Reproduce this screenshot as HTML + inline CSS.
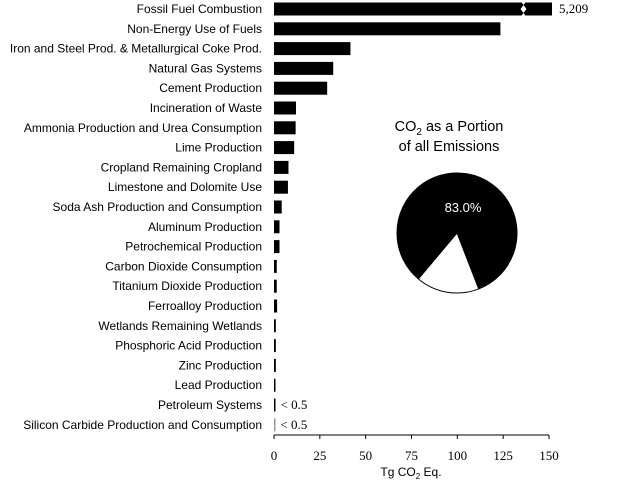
<!DOCTYPE html>
<html><head><meta charset="utf-8"><style>
body{margin:0;background:#fff;}
svg text{font-family:"Liberation Sans",sans-serif;}
</style></head><body>
<svg width="620" height="483" viewBox="0 0 620 483">
<g id="labels"></g><g id="bars"></g><g id="axis"></g>
<g>
<text x="449" y="131" font-size="14.5" text-anchor="middle">CO<tspan font-size="10" dy="4">2</tspan><tspan dy="-4"> as a Portion</tspan></text>
<text x="449" y="151" font-size="14.5" text-anchor="middle">of all Emissions</text>
<g id="pie"></g>
</g>
</svg>
<script>
const categories=["Fossil Fuel Combustion","Non-Energy Use of Fuels","Iron and Steel Prod. & Metallurgical Coke Prod.","Natural Gas Systems","Cement Production","Incineration of Waste","Ammonia Production and Urea Consumption","Lime Production","Cropland Remaining Cropland","Limestone and Dolomite Use","Soda Ash Production and Consumption","Aluminum Production","Petrochemical Production","Carbon Dioxide Consumption","Titanium Dioxide Production","Ferroalloy Production","Wetlands Remaining Wetlands","Phosphoric Acid Production","Zinc Production","Lead Production","Petroleum Systems","Silicon Carbide Production and Consumption"];
const values=[5209,123.5,41.7,32.3,29.0,12.0,11.8,11.0,7.9,7.6,4.2,3.0,3.0,1.5,1.5,1.7,1.0,1.0,1.0,0.5,0.3,0.2];
const valueLabels=["5,209","","","","","","","","","","","","","","","","","","","","< 0.5","< 0.5"];
const ticks=[0,25,50,75,100,125,150];
const pieValues=[83.0,17.0];
const NS="http://www.w3.org/2000/svg";
function mk(t,a,p){const e=document.createElementNS(NS,t);for(const k in a)e.setAttribute(k,a[k]);p.appendChild(e);return e;}
const x0=274,x1=549,vmax=150;
const X=v=>x0+Math.min(v,vmax)/vmax*(x1-x0);
const Y=i=>9+i*19.8;
const L=document.getElementById('labels'),B=document.getElementById('bars'),A=document.getElementById('axis');
categories.forEach((c,i)=>{
 const t=mk('text',{x:262,y:Y(i)+4,'font-size':12,'text-anchor':'end'},L);t.textContent=c;
 
 
 let w=X(values[i])-x0; if(values[i]>vmax) w+=3;
 w=Math.max(w,1.5);
 const r=mk('rect',{x:x0,y:Y(i)-6.5,width:w,height:13,fill:i==21?'#999':'#000'},B);
 
 
 if(values[i]>vmax){
  const br=mk('path',{d:`M${X(135)-1} ${Y(i)-8} l3 4 -3 4 3 4 -3 4 h6 l-3 -4 3 -4 -3 -4 3 -4 z`,fill:'#fff'},B);
  
  
 }
 if(valueLabels[i]){
  const vx=values[i]>vmax?X(vmax)+10:X(values[i])+6;
  const vt=mk('text',{x:vx,y:Y(i)+4,'font-size':13,style:'font-family:"Liberation Serif",serif'},B);vt.textContent=valueLabels[i];
  
  
 }
});
const ax=mk('line',{x1:x0,x2:x1,y1:435,y2:435,stroke:'#000','stroke-width':1},A);


ticks.forEach(v=>{
 const tl=mk('line',{x1:X(v),x2:X(v),y1:435,y2:439,stroke:'#000'},A);
 
 
 const tt=mk('text',{x:X(v),y:460,'font-size':13,'text-anchor':'middle',style:'font-family:"Liberation Serif",serif'},A);tt.textContent=v;
 
 
});
const at=mk('text',{x:411,y:476,'font-size':12,'text-anchor':'middle'},A);
at.innerHTML='Tg CO<tspan font-size="8" dy="3">2</tspan><tspan dy="-3"> Eq.</tspan>';


// pie
const P=document.getElementById('pie'),cx=457,cy=233,R=60;
const tot=pieValues.reduce((a,b)=>a+b,0);
let start=220*Math.PI/180;
pieValues.forEach((v,i)=>{
 const sw=v/tot*2*Math.PI,end=start+sw;
 const p=a=>[cx+R*Math.sin(a),cy-R*Math.cos(a)];
 const [sx,sy]=p(start),[ex,ey]=p(end);
 const s=mk('path',{d:`M${cx} ${cy} L${sx} ${sy} A${R} ${R} 0 ${sw>Math.PI?1:0} 1 ${ex} ${ey} Z`,fill:i==0?'#000':'#fff',stroke:'#000','stroke-width':1},P);
 
 
 start=end;
});
const pl=mk('text',{x:463,y:212,'font-size':13,'text-anchor':'middle',fill:'#fff'},P);pl.textContent=pieValues[0].toFixed(1)+'%';


</script>
</body></html>
